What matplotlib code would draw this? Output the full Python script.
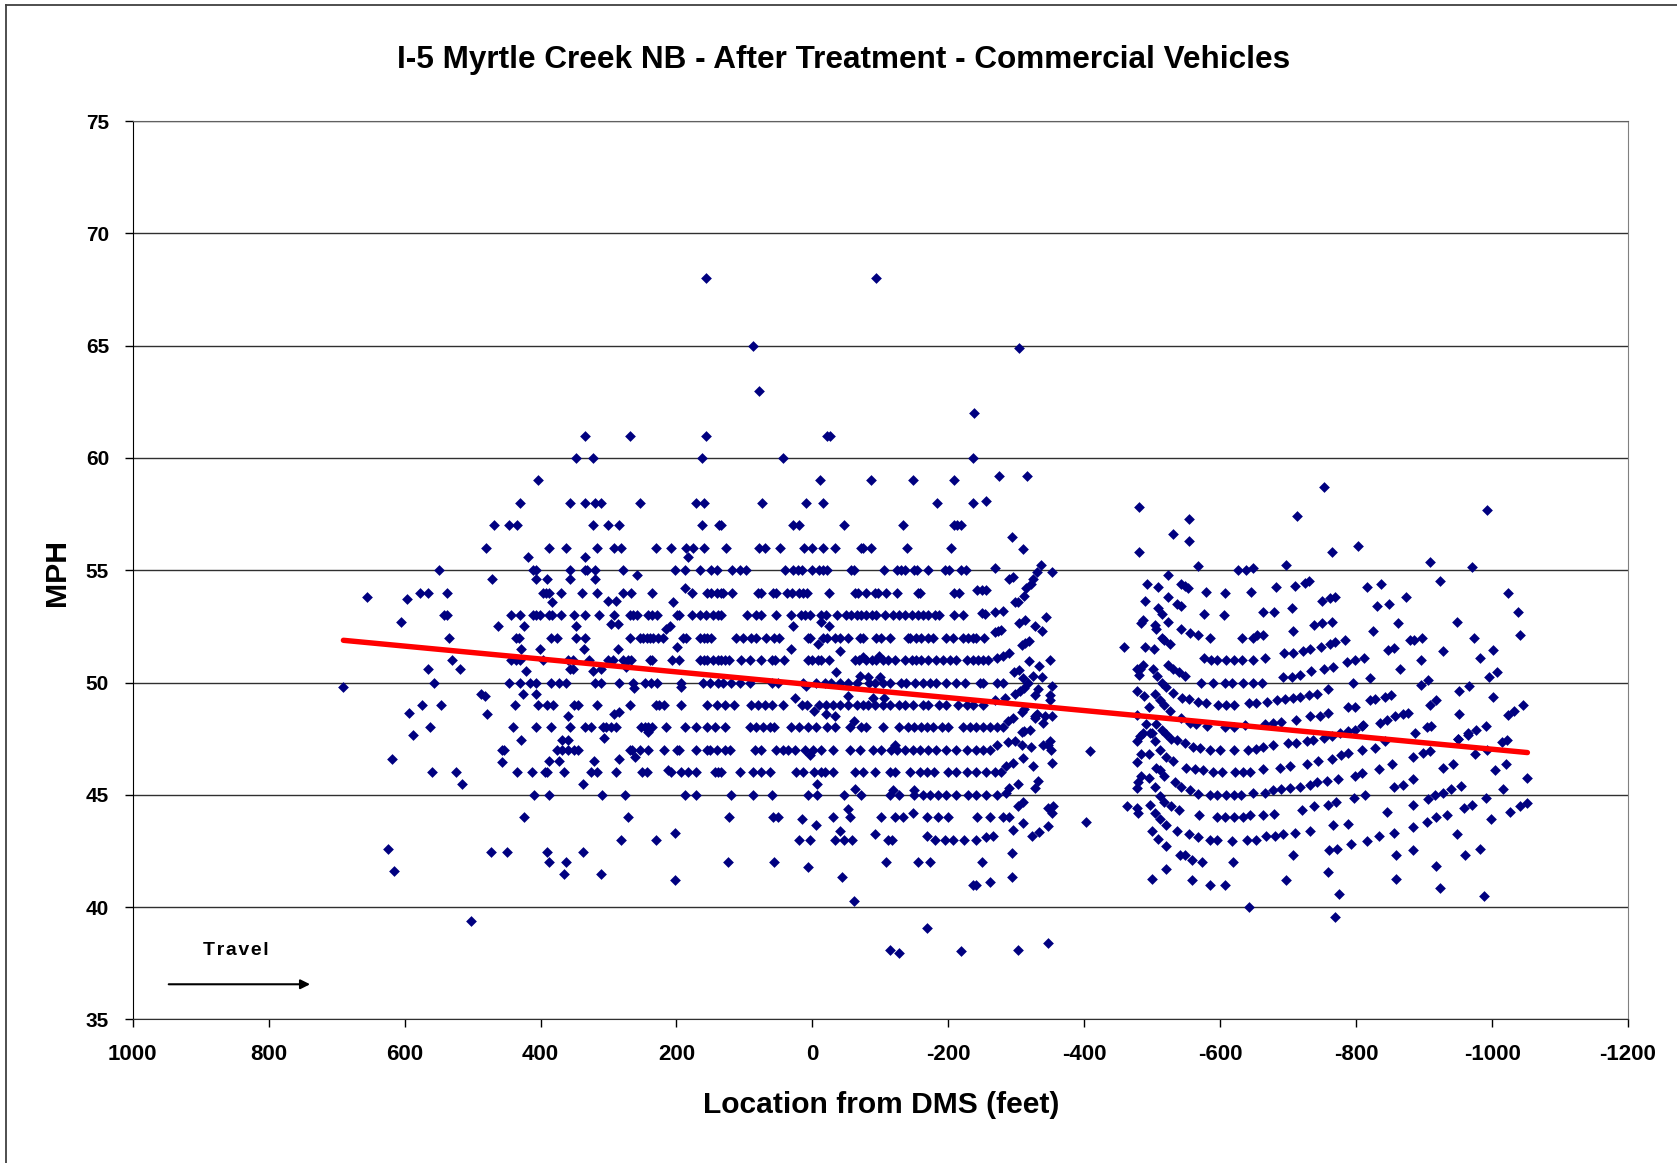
import matplotlib
matplotlib.use("Agg")
import matplotlib.pyplot as plt
from matplotlib.lines import Line2D

plt.rcParams['font.family'] = ['Liberation Sans', 'DejaVu Sans']
plt.rcParams['axes.unicode_minus'] = False

# left blob, whole mph rows (feet from DMS)
row_68 = [156, -94]
row_65 = [88]
row_63 = [79]
row_62 = [-238]
row_61 = [334, 269, 156, -21, -26]
row_60 = [348, 323, 163, 43, -237]
row_59 = [404, -11, -86, -148, -209]
row_58 = [430, 356, 334, 320, 311, 253, 171, 160, 74, 9, -16, -184, -237]
row_57 = [468, 446, 435, 323, 301, 284, 163, 138, 134, 29, 20, -47, -133, -208, -213, -219]
row_56 = [480, 387, 362, 317, 292, 281, 230, 208, 186, 176, 160, 127, 78, 70, 48, 12, 0, -16, -33,
          -72, -75, -86, -139, -204]
row_55 = [549, 411, 406, 356, 334, 331, 320, 278, 202, 188, 166, 149, 141, 118, 107, 98, 40, 28, 21, 16,
          0, -10, -16, -21, -57, -61, -106, -125, -131, -137, -150, -154, -170, -195, -201, -219, -226]
row_54 = [578, 566, 538, 396, 392, 388, 370, 339, 317, 278, 267, 236, 177, 155, 149, 141, 134, 131, 118,
          80, 75, 58, 53, 38, 30, 20, 14, 8, -24, -62, -67, -79, -92, -97, -109, -125, -155, -159, -208, -215]
row_53 = [542, 538, 443, 430, 411, 406, 401, 387, 383, 370, 350, 335, 314, 292, 269, 264, 258, 242, 236,
          229, 199, 196, 177, 166, 156, 146, 139, 134, 96, 83, 75, 54, 32, 17, 11, 3, -13, -20, -36, -49,
          -57, -66, -72, -79, -87, -94, -107, -119, -128, -136, -146, -155, -163, -170, -181, -187, -209, -221]
row_52 = [535, 436, 432, 384, 376, 348, 334, 269, 254, 249, 244, 239, 234, 227, 220, 190, 186, 166, 160,
          155, 149, 112, 102, 90, 83, 68, 56, 49, 7, 3, -16, -21, -33, -40, -52, -70, -75, -94, -101, -114,
          -140, -144, -153, -160, -170, -177, -196, -207, -222, -229, -236, -241, -252]
row_51 = [530, 443, 436, 430, 396, 360, 352, 328, 300, 293, 278, 271, 267, 239, 236, 207, 196, 166, 160,
          155, 146, 139, 134, 129, 123, 105, 92, 76, 60, 55, 42, 7, 0, -8, -13, -24, -62, -68, -79, -87, -94,
          -104, -111, -121, -136, -146, -153, -160, -170, -182, -192, -202, -212, -227, -236, -244, -251, -259]
row_50 = [557, 446, 430, 416, 406, 384, 373, 362, 320, 311, 284, 264, 247, 237, 229, 193, 161, 151, 139,
          132, 119, 107, 92, 60, 51, 14, -6, -18, -28, -40, -52, -65, -84, -92, -104, -114, -131, -138, -151,
          -163, -173, -182, -197, -212, -224, -246, -251, -271, -280, -317]
row_49 = [575, 547, 437, 404, 390, 381, 350, 345, 317, 269, 230, 225, 219, 194, 155, 141, 129, 116, 90, 80,
          70, 60, 43, 16, 8, -10, -20, -30, -40, -52, -65, -74, -82, -92, -104, -114, -128, -136, -148, -163,
          -170, -187, -197, -214, -227, -236, -251]
row_48 = [563, 440, 406, 384, 356, 334, 325, 308, 303, 297, 289, 252, 247, 242, 236, 216, 188, 171, 155, 144,
          129, 92, 83, 73, 63, 56, 32, 20, 7, -5, -21, -34, -56, -72, -79, -104, -128, -140, -150, -160, -168,
          -178, -190, -200, -222, -232, -241, -251, -261, -271, -281]
row_47 = [456, 454, 376, 368, 359, 351, 345, 269, 266, 253, 242, 219, 199, 196, 171, 155, 151, 141, 129, 121,
          85, 75, 53, 43, 36, 26, 11, -1, -13, -31, -55, -70, -89, -101, -116, -124, -136, -148, -158, -170,
          -182, -197, -212, -227, -241, -251, -261, -351]
row_46 = [560, 524, 434, 412, 393, 390, 365, 325, 317, 289, 250, 244, 208, 194, 183, 171, 144, 139, 134, 107,
          88, 76, 63, 24, 14, -2, -13, -18, -30, -63, -75, -92, -114, -121, -143, -158, -168, -179, -200, -212,
          -227, -241, -256, -268, -278]
row_45 = [409, 387, 309, 275, 188, 171, 119, 87, 60, 7, -7, -47, -72, -114, -128, -150, -163, -173, -185, -197,
          -212, -229, -241, -256, -272]
row_44 = [424, 272, 122, 58, 50, -30, -56, -101, -121, -133, -168, -185, -199, -242, -261, -281, -290]
row_43 = [281, 230, 20, 4, -33, -47, -58, -180, -195, -207, -223, -240, -111, -117]
row_42 = [387, 362, 124, 57, -109, -156, -173, -249]
whole_mph = [68, 65, 63, 62, 61, 60, 59, 58, 57, 56, 55, 54, 53, 52, 51, 50, 49, 48, 47, 46, 45, 44, 43, 42]
whole_rows = [row_68, row_65, row_63, row_62, row_61, row_60, row_59, row_58, row_57, row_56, row_55, row_54,
              row_53, row_52, row_51, row_50, row_49, row_48, row_47, row_46, row_45, row_44, row_43, row_42]

# left blob, off-row points
left_high = [(-304, 64.9), (656, 53.8), (597, 53.7), (605, 52.7), (462, 52.5), (424, 52.5), (348, 52.5),
             (297, 52.6), (286, 52.6), (215, 52.4), (210, 52.5), (429, 51.5), (401, 51.5), (336, 51.5),
             (286, 51.5), (199, 51.6), (566, 50.6), (518, 50.6), (421, 50.5), (356, 50.6), (352, 50.6),
             (323, 50.5), (311, 50.6), (274, 50.7), (690, 49.8), (262, 49.75), (193, 49.8), (488, 49.5),
             (482, 49.4), (426, 49.5), (406, 49.5), (594, 48.65), (479, 48.6), (359, 48.5), (292, 48.6),
             (284, 48.7), (418, 55.6), (334, 55.6), (183, 55.6), (258, 54.8), (471, 54.6), (407, 54.6),
             (390, 54.6), (356, 54.6), (320, 54.6), (188, 54.2), (383, 53.6), (300, 53.65), (289, 53.65),
             (205, 53.6)]
left_mid = [(-274, 59.2), (-316, 59.2), (-256, 58.1), (-293, 56.5), (-310, 55.95), (-336, 55.25), (-268, 55.1),
            (-352, 54.9), (-330, 54.9), (-295, 54.7), (-289, 54.6), (-325, 54.6), (-321, 54.4), (-242, 54.1),
            (-249, 54.1), (-256, 54.1), (-315, 54.2), (-298, 53.6), (-303, 53.6), (-312, 53.85), (-268, 53.15),
            (-280, 53.2), (-249, 53.1), (-254, 53.05), (-13, 52.7), (29, 52.5), (-24, 52.5), (-304, 52.65),
            (-313, 52.8), (-343, 52.9), (-327, 52.5), (-338, 52.3), (-268, 52.25), (-273, 52.3), (-278, 52.35),
            (-8, 51.7), (-313, 51.75), (-318, 51.85), (-308, 51.65), (32, 51.5), (-41, 51.4), (-74, 51.15),
            (-98, 51.2), (-271, 51.1), (-281, 51.2), (-290, 51.3), (-318, 50.95), (-349, 51), (-333, 50.75),
            (-35, 50.45), (-304, 50.55), (-296, 50.45), (-70, 50.3), (-82, 50.25), (-100, 50.25), (-338, 50.25),
            (-325, 50.3), (-310, 50.2), (9, 49.85), (26, 49.33), (-52, 49.4), (-352, 49.85), (-312, 49.75),
            (-305, 49.6), (-298, 49.5), (-332, 49.7), (-327, 49.45), (-349, 49.45), (-89, 49.3), (-106, 49.3),
            (-268, 49.2), (-283, 49.3), (-2, 48.75), (-20, 48.6), (-33, 48.5), (-61, 48.3), (-349, 49.2),
            (-308, 48.7), (-312, 48.8), (-327, 48.5), (-330, 48.6), (-295, 48.4), (-288, 48.3), (-352, 48.5),
            (-342, 48.5), (-340, 48.2)]
left_low = [(588, 47.65), (429, 47.45), (306, 47.55), (368, 47.45), (359, 47.45), (242, 47.8), (619, 46.6),
            (457, 46.45), (387, 46.5), (373, 46.5), (322, 46.5), (284, 46.6), (261, 46.7), (213, 46.1), (515, 45.5),
            (337, 45.5), (202, 43.3), (625, 42.6), (473, 42.45), (449, 42.45), (390, 42.45), (337, 42.45),
            (616, 41.6), (365, 41.45), (311, 41.45), (202, 41.2), (502, 39.4), (-271, 47.2), (-288, 47.35),
            (-298, 47.4), (-308, 47.8), (-308, 47.2), (-312, 47.85), (-320, 47.9), (-327, 48.4), (-349, 47.4),
            (-347, 47.2), (-322, 47.15), (-339, 47.2), (3, 46.75), (-121, 47.2), (-295, 46.4), (-285, 46.3),
            (-325, 46.3), (-352, 46.4), (-310, 46.65), (-7, 45.5), (-332, 45.6), (-327, 45.3), (-303, 45.5),
            (-290, 45.3), (-285, 45.1), (-63, 45.25), (-119, 45.2), (-150, 45.2), (-310, 44.7), (-303, 44.5),
            (15, 43.9), (-52, 44.35), (-148, 44.2), (-354, 44.5), (-347, 44.4), (-352, 44.2), (-5, 43.65),
            (-310, 43.75), (-295, 43.45), (-347, 43.6), (-334, 43.35), (-323, 43.15), (-41, 43.4), (-92, 43.25),
            (-168, 43.15), (-256, 43.1), (-266, 43.15), (-293, 42.4), (7, 41.8), (-44, 41.35), (-293, 41.35),
            (-236, 41), (-240, 41), (-262, 41.1), (-61, 40.25), (-168, 39.05), (-114, 38.1), (-128, 37.95),
            (-218, 38.05), (-302, 38.1), (-347, 38.4), (-408, 46.95), (-402, 43.8)]

# right blob
right_top = [(-481, 57.8), (-554, 57.3), (-531, 56.6), (-554, 56.3), (-481, 55.8), (-568, 55.2), (-626, 55),
             (-638, 55), (-649, 55.1), (-697, 55.25), (-753, 58.7), (-713, 57.4), (-764, 55.8), (-803, 56.1),
             (-909, 55.35), (-971, 55.15), (-993, 57.7), (-523, 54.8), (-492, 54.4), (-509, 54.25), (-542, 54.4),
             (-548, 54.3), (-552, 54.2), (-579, 54.05), (-607, 54), (-646, 54.05), (-682, 54.25), (-710, 54.3),
             (-725, 54.45), (-730, 54.5), (-816, 54.25), (-836, 54.4), (-923, 54.5), (-1024, 54), (-489, 53.65),
             (-523, 53.8), (-536, 53.5), (-543, 53.4), (-509, 53.3), (-514, 53.05), (-576, 53.05), (-605, 53),
             (-663, 53.15), (-679, 53.15), (-705, 53.3), (-750, 53.65), (-761, 53.75), (-769, 53.8), (-831, 53.4),
             (-848, 53.5), (-873, 53.8), (-1038, 53.15), (-483, 52.65), (-487, 52.8), (-523, 52.7), (-504, 52.55),
             (-506, 52.4), (-542, 52.4), (-556, 52.2), (-568, 52.1), (-585, 52), (-632, 52), (-649, 52), (-654, 52.1),
             (-663, 52.1), (-707, 52.3), (-738, 52.55), (-750, 52.65), (-764, 52.7), (-825, 52.3), (-862, 52.65),
             (-948, 52.7), (-973, 52), (-1041, 52.1), (-897, 52), (-879, 51.9), (-885, 51.9), (-458, 51.6),
             (-489, 51.6), (-503, 51.5), (-515, 52), (-518, 51.9), (-526, 51.7)]
right_mid = [(-576, 51.1), (-587, 51), (-595, 51), (-609, 51), (-621, 51), (-632, 51), (-649, 51), (-666, 51.1),
             (-694, 51.3), (-707, 51.3), (-722, 51.4), (-732, 51.5), (-749, 51.6), (-761, 51.7), (-769, 51.8),
             (-783, 51.9), (-847, 51.45), (-856, 51.55), (-928, 51.4), (-1002, 51.45), (-982, 51.1), (-786, 50.9),
             (-798, 51), (-811, 51.1), (-896, 51), (-482, 50.6), (-487, 50.8), (-477, 50.6), (-481, 50.35),
             (-523, 50.8), (-531, 50.6), (-540, 50.45), (-548, 50.3), (-501, 50.6), (-507, 50.3), (-514, 50),
             (-521, 49.8), (-530, 49.55), (-572, 50), (-590, 50), (-607, 50), (-617, 50), (-634, 50), (-649, 50),
             (-662, 50), (-693, 50.25), (-705, 50.25), (-717, 50.35), (-734, 50.5), (-752, 50.6), (-766, 50.7),
             (-796, 50), (-820, 50.2), (-864, 50.6), (-896, 49.9), (-906, 50.1), (-966, 49.85), (-995, 50.25),
             (-1007, 50.45), (-477, 49.6), (-488, 49.4), (-504, 49.5), (-511, 49.2), (-518, 49), (-526, 48.75),
             (-544, 49.3), (-554, 49.25), (-568, 49.15), (-579, 49.1), (-597, 49), (-609, 49), (-620, 49),
             (-643, 49.1), (-652, 49.1), (-669, 49.15), (-683, 49.2), (-695, 49.25), (-707, 49.3), (-717, 49.35),
             (-730, 49.45), (-742, 49.5), (-758, 49.7), (-820, 49.2), (-828, 49.25), (-842, 49.35), (-851, 49.45),
             (-951, 49.6), (-1002, 49.35), (-909, 49), (-918, 49.2), (-788, 48.9), (-798, 48.9), (-1046, 49),
             (-951, 48.6), (-1024, 48.55), (-1033, 48.75), (-495, 48.9), (-478, 48.55), (-543, 48.4), (-555, 48.2),
             (-565, 48.15), (-580, 48.05), (-607, 48), (-621, 48), (-636, 48.1), (-666, 48.15), (-678, 48.2),
             (-690, 48.25), (-711, 48.35), (-732, 48.5), (-747, 48.5), (-759, 48.65), (-835, 48.2), (-845, 48.35),
             (-857, 48.5), (-869, 48.6), (-877, 48.65), (-810, 48.1), (-904, 48), (-910, 48.05), (-886, 47.75),
             (-977, 47.9), (-991, 48.05), (-491, 48.15), (-499, 47.75), (-964, 47.65), (-950, 47.5)]
right_low = [(-482, 47.6), (-477, 47.4), (-486, 47.75), (-497, 47.75), (-506, 48.15), (-514, 47.9), (-521, 47.7),
             (-528, 47.5), (-536, 47.45), (-548, 47.3), (-560, 47.15), (-570, 47.1), (-585, 47), (-599, 47),
             (-621, 47), (-641, 47), (-653, 47.05), (-663, 47.15), (-678, 47.2), (-700, 47.3), (-712, 47.3),
             (-727, 47.4), (-737, 47.45), (-752, 47.55), (-764, 47.6), (-776, 47.75), (-788, 47.85), (-798, 47.9),
             (-808, 48.05), (-484, 46.8), (-495, 46.8), (-478, 46.45), (-504, 47.4), (-511, 47), (-521, 46.7),
             (-531, 46.5), (-550, 46.2), (-563, 46.15), (-575, 46.1), (-590, 46), (-602, 46), (-622, 46), (-634, 46),
             (-644, 46), (-663, 46.15), (-688, 46.2), (-702, 46.3), (-727, 46.35), (-744, 46.5), (-764, 46.6),
             (-778, 46.75), (-788, 46.85), (-808, 47), (-828, 47.1), (-842, 47.4), (-884, 46.7), (-899, 46.85),
             (-909, 46.95), (-853, 46.35), (-833, 46.15), (-928, 46.2), (-943, 46.35), (-975, 46.8), (-993, 47),
             (-1014, 47.35), (-1022, 47.45), (-950, 47.5), (-965, 47.75), (-1004, 46.1), (-1021, 46.35), (-1052, 45.75),
             (-506, 46.2), (-511, 46.1), (-517, 45.85), (-484, 45.85), (-479, 45.55), (-477, 45.3), (-495, 45.75),
             (-504, 45.35), (-533, 45.55), (-543, 45.35), (-555, 45.2), (-567, 45.05), (-585, 45), (-595, 45),
             (-609, 45), (-620, 45), (-630, 45), (-649, 45.1), (-666, 45.1), (-678, 45.2), (-690, 45.25), (-702, 45.3),
             (-717, 45.35), (-732, 45.45), (-742, 45.55), (-757, 45.6), (-774, 45.7), (-798, 45.85), (-808, 45.95),
             (-855, 45.35), (-869, 45.45), (-884, 45.7), (-797, 44.85), (-813, 45), (-928, 45.1), (-940, 45.25),
             (-954, 45.4), (-906, 44.8), (-916, 45), (-1016, 45.25), (-991, 44.85), (-884, 44.55), (-845, 44.25),
             (-511, 44.95), (-518, 44.7), (-528, 44.5), (-497, 44.55), (-540, 44.3), (-463, 44.5), (-478, 44.4),
             (-479, 44.2), (-504, 44.2), (-511, 43.9), (-521, 43.65), (-536, 43.4), (-569, 44.1), (-595, 44),
             (-607, 44), (-620, 44), (-634, 44), (-644, 44.1), (-663, 44.1), (-679, 44.15), (-721, 44.3), (-738, 44.5),
             (-759, 44.55), (-771, 44.7), (-958, 44.4), (-970, 44.55), (-999, 43.9), (-1026, 44.25), (-1041, 44.5),
             (-1052, 44.65), (-933, 44.1), (-917, 44), (-904, 43.8), (-884, 43.55), (-766, 43.65), (-788, 43.7),
             (-500, 43.4), (-509, 43.05), (-520, 42.7), (-554, 43.25), (-568, 43.1), (-585, 43), (-595, 43), (-617, 42.95),
             (-639, 43), (-653, 43), (-668, 43.15), (-680, 43.15), (-693, 43.25), (-710, 43.3), (-732, 43.4),
             (-856, 43.3), (-834, 43.15), (-816, 42.95), (-792, 42.8), (-772, 42.6), (-760, 42.55), (-948, 43.25),
             (-541, 42.3), (-548, 42.3), (-559, 42.1), (-573, 42), (-619, 42), (-707, 42.3), (-859, 42.3), (-883, 42.55),
             (-917, 41.85), (-960, 42.3), (-982, 42.6), (-520, 41.7), (-500, 41.25), (-559, 41.2), (-585, 41), (-607, 41),
             (-697, 41.2), (-758, 41.55), (-858, 41.25), (-923, 40.85), (-775, 40.6), (-988, 40.5), (-643, 40),
             (-769, 39.55)]

trend_feet = [690, -1052]
trend_mph = [51.88, 46.88]

x_ticks = [1000, 800, 600, 400, 200, 0, -200, -400, -600, -800, -1000, -1200]
y_ticks = [35, 40, 45, 50, 55, 60, 65, 70, 75]

W, H = 1677, 1163
fig = plt.figure(figsize=(W / 100, H / 100), dpi=100, facecolor="white")
ax = fig.add_axes([132.7 / W, 1 - 1019.3 / H, (1628 - 132.7) / W, (1019.3 - 121.2) / H])

# outer chart frame, only the left and top edges fall inside the picture
fig.add_artist(Line2D([6 / W, 6 / W], [0, 1 - 4.5 / H], color="#404040", lw=1.3))
fig.add_artist(Line2D([6 / W, 1], [1 - 4.5 / H, 1 - 4.5 / H], color="#404040", lw=1.3))

xs = []
ys = []
for mph, feet in zip(whole_mph, whole_rows):
    xs += feet
    ys += [mph] * len(feet)
for pts in [left_high, left_mid, left_low, right_top, right_mid, right_low]:
    xs += [p[0] for p in pts]
    ys += [p[1] for p in pts]

ax.scatter(xs, ys, marker="D", s=30, color="#000080", linewidths=0, zorder=3)
ax.plot(trend_feet, trend_mph, color="#ff0000", lw=3.9, solid_capstyle="round", zorder=4)

ax.set_xlim(1000, -1200)
ax.set_ylim(35, 75)
ax.set_xticks(x_ticks)
ax.set_yticks(y_ticks)
ax.grid(axis="y", color="#303030", lw=1)
ax.set_axisbelow(True)
ax.tick_params(axis="x", length=6, width=1, labelsize=16, pad=11.5)
ax.tick_params(axis="y", length=6, width=1, labelsize=15, pad=11)
for lab in ax.get_xticklabels() + ax.get_yticklabels():
    lab.set_fontweight("bold")
ax.spines["top"].set_color("#606060")
ax.spines["right"].set_color("#808080")
ax.spines["left"].set_color("black")
ax.spines["bottom"].set_color("#303030")

fig.text(844 / W, 1 - 60 / H, "I-5 Myrtle Creek NB - After Treatment - Commercial Vehicles",
         ha="center", va="center", fontsize=22.7, fontweight="bold")
fig.text(881 / W, 1 - 1105 / H, "Location from DMS (feet)", ha="center", va="center",
         fontsize=21.6, fontweight="bold")
fig.text(57 / W, 1 - 572 / H, "MPH", ha="center", va="center", rotation=90,
         fontsize=21.8, fontweight="bold")

ax.text(849, 38.07, "T r a v e l".replace(" ", "\u200a"), ha="center", va="center", fontsize=14, fontweight="bold")
ax.annotate("", xy=(739, 36.56), xytext=(947, 36.56),
            arrowprops=dict(arrowstyle="-|>", color="black", lw=1.5, mutation_scale=14, shrinkA=0, shrinkB=0))

fig.savefig("out.png", dpi=100)
